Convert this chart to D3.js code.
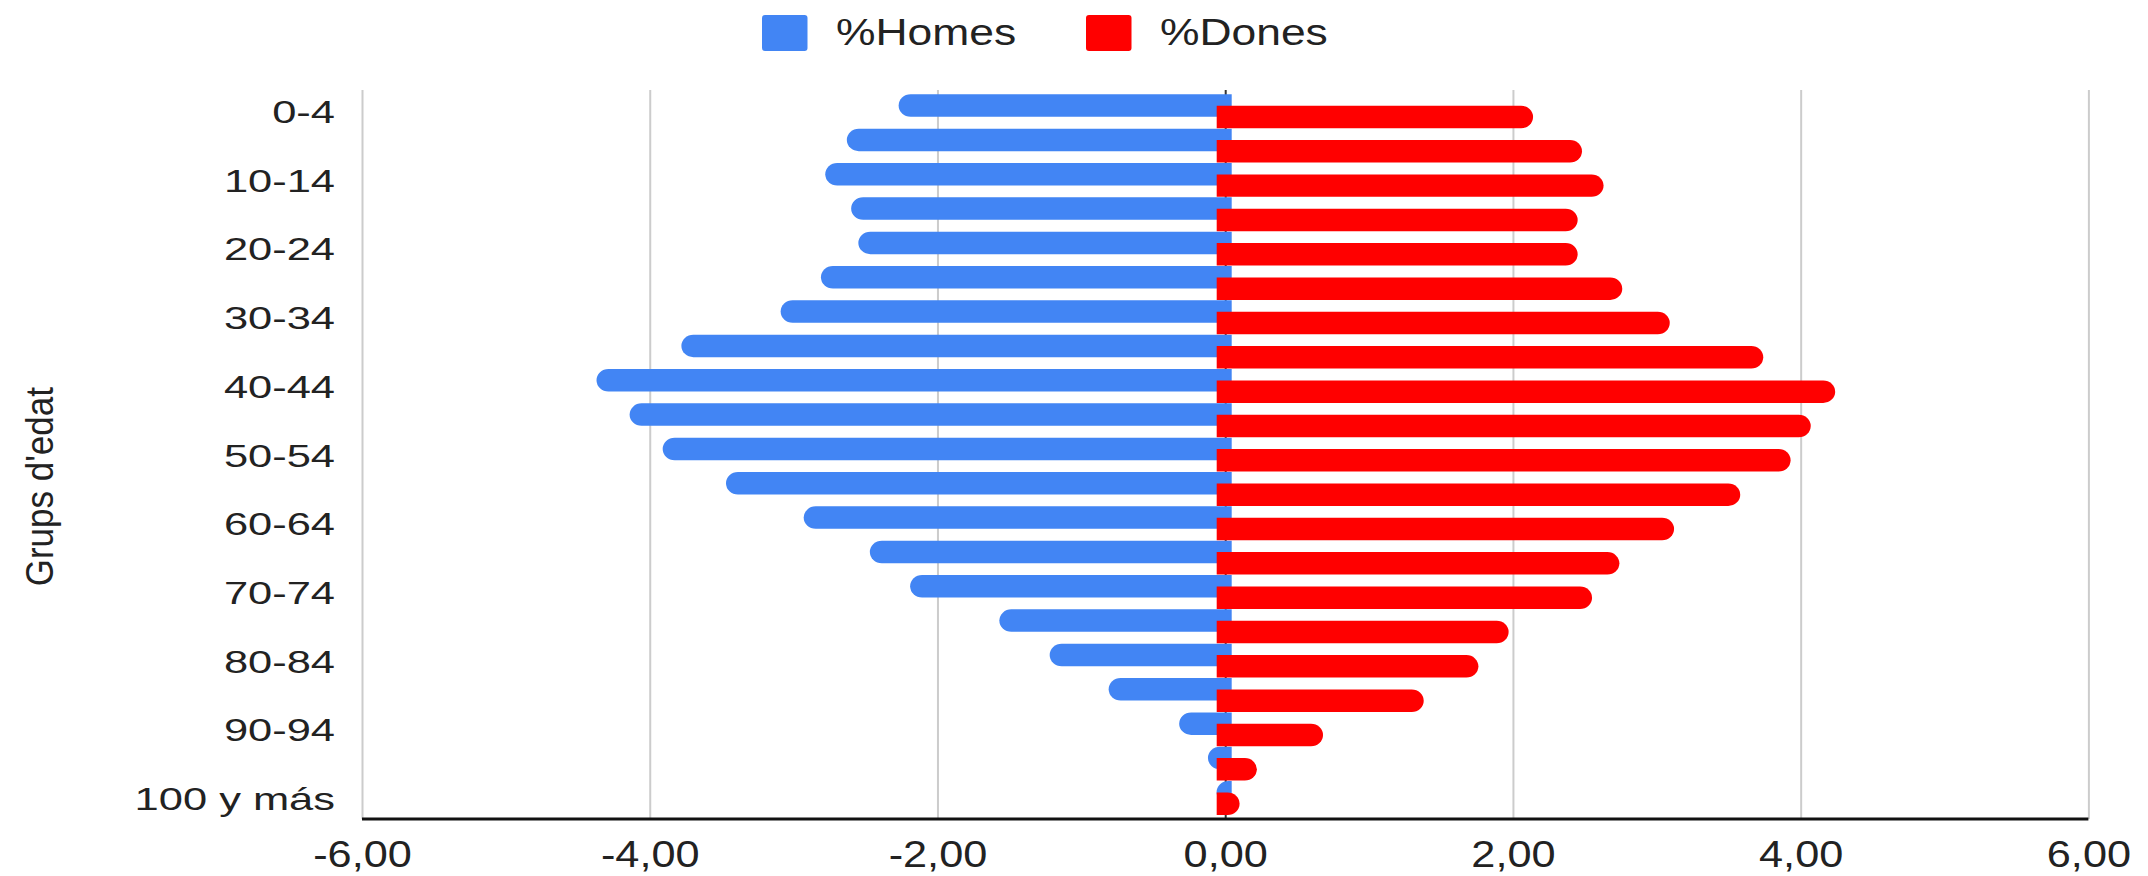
<!DOCTYPE html>
<html>
<head>
<meta charset="utf-8">
<script src="https://cdn.jsdelivr.net/npm/d3@7"></script>
<style>
  body { margin: 0; background: #fff; }
  svg { display: block; }
  text { font-family: "Liberation Sans", Arial, sans-serif; }
</style>
</head>
<body>
<div id="chart"></div>
<script>
// age groups, top to bottom
const ageGroups = ["0-4", "5-9", "10-14", "15-19", "20-24", "25-29", "30-34", "35-39",
    "40-44", "45-49", "50-54", "55-59", "60-64", "65-69", "70-74", "75-79",
    "80-84", "85-89", "90-94", "95-99", "100 y más"];

// % of population (men drawn to the left)
const homes = [-2.27, -2.63, -2.78, -2.60, -2.55, -2.81, -3.09, -3.78, -4.37, -4.14, -3.91,
    -3.47, -2.93, -2.47, -2.19, -1.57, -1.22, -0.81, -0.32, -0.12, -0.06];
const dones = [2.14, 2.48, 2.63, 2.45, 2.45, 2.76, 3.09, 3.74, 4.24, 4.07, 3.93,
    3.58, 3.12, 2.74, 2.55, 1.97, 1.76, 1.38, 0.68, 0.22, 0.10];

const xTicks = [-6, -4, -2, 0, 2, 4, 6];
const seriesNames = ["%Homes", "%Dones"];
const seriesColors = ["#4285F4", "#FF0000"];
const yTitle = "Grups d'edat";

const width = 2148, height = 876;
const plotLeft = 362, plotRight = 2088.4, plotTop = 90, plotBottom = 819;

const svg = d3.select("#chart")
    .append("svg")
    .attr("width", width)
    .attr("height", height);

const x = d3.scaleLinear()
    .domain([-6, 6])
    .range([plotLeft, plotRight]);

const y = d3.scaleBand()
    .domain(ageGroups)
    .range([94.3, 815.4]);

const fmt = d3.formatLocale({decimal: ",", thousands: ".", grouping: [3], currency: ["", ""], minus: "-"})
    .format(".2f");

// gridlines (zero line darker)
svg.append("g")
    .attr("transform", "translate(0," + plotBottom + ")")
    .call(d3.axisBottom(x).tickValues(xTicks).tickSize(-(plotBottom - plotTop)).tickFormat(""))
    .call(g => g.select(".domain").remove())
    .call(g => g.selectAll("line")
        .attr("stroke", d => d === 0 ? "#333" : "#cccccc")
        .attr("stroke-width", 2));

const bw = y.bandwidth();
const barH = bw * 0.655;
const capR = 12;

function leftBar(x0, x1, top, h) {
    const r = Math.min(capR, x1 - x0);
    return `M${x1},${top}H${x0 + r}A${r},${h / 2} 0 0 0 ${x0 + r},${top + h}H${x1}Z`;
}

function rightBar(x0, x1, top, h) {
    const r = Math.min(capR, x1 - x0);
    return `M${x0},${top}H${x1 - r}A${r},${h / 2} 0 0 1 ${x1 - r},${top + h}H${x0}Z`;
}

svg.append("g")
    .selectAll("path")
    .data(homes)
    .enter()
    .append("path")
    .attr("fill", seriesColors[0])
    .attr("d", (d, i) => leftBar(x(d), x(0) + 6.5, y(ageGroups[i]), barH));

svg.append("g")
    .selectAll("path")
    .data(dones)
    .enter()
    .append("path")
    .attr("fill", seriesColors[1])
    .attr("d", (d, i) => rightBar(x(0) - 8.5, x(d), y(ageGroups[i]) + bw * 0.332, barH));

// y axis labels (every second group)
const kY = 1.38;
svg.append("g")
    .attr("transform", "translate(" + plotLeft + ",0)")
    .call(d3.axisLeft(y).tickValues(ageGroups.filter((d, i) => i % 2 === 0)).tickSize(0).tickPadding(0))
    .call(g => g.select(".domain").remove())
    .attr("font-size", 31.5)
    .attr("font-family", null)
    .call(g => g.selectAll("text")
        .attr("fill", "#222")
        .attr("x", -27 / kY)
        .attr("dy", "0.37em")
        .attr("transform", "scale(" + kY + ",1)"));

// x axis labels
const kX = 1.17;
svg.append("g")
    .attr("transform", "translate(0," + plotBottom + ")")
    .call(d3.axisBottom(x).tickValues(xTicks).tickSize(0).tickFormat(fmt))
    .call(g => g.select(".domain").remove())
    .attr("font-size", 37)
    .attr("font-family", null)
    .call(g => g.selectAll("text")
        .attr("fill", "#222")
        .attr("y", 48)
        .attr("dy", null)
        .attr("transform", "scale(" + kX + ",1)"));

// baseline
svg.append("line")
    .attr("x1", x(-6)).attr("x2", x(6))
    .attr("y1", plotBottom).attr("y2", plotBottom)
    .attr("stroke", "#111")
    .attr("stroke-width", 3);

// y title
svg.append("text")
    .attr("transform", "translate(52.5,486.7) scale(1.1,1) rotate(-90)")
    .attr("text-anchor", "middle")
    .attr("font-size", 35)
    .attr("fill", "#222")
    .text(yTitle);

// legend
const legendX = [762, 1086];
const legend = svg.append("g")
    .selectAll("g")
    .data(seriesNames)
    .enter()
    .append("g")
    .attr("transform", (d, i) => "translate(" + legendX[i] + ",0)");

legend.append("rect")
    .attr("x", 0).attr("y", 15)
    .attr("width", 45.5).attr("height", 36)
    .attr("rx", 3)
    .attr("fill", (d, i) => seriesColors[i]);

legend.append("text")
    .attr("transform", "translate(74,45) scale(1.2,1)")
    .attr("font-size", 37)
    .attr("fill", "#222")
    .text(d => d);
</script>
</body>
</html>
